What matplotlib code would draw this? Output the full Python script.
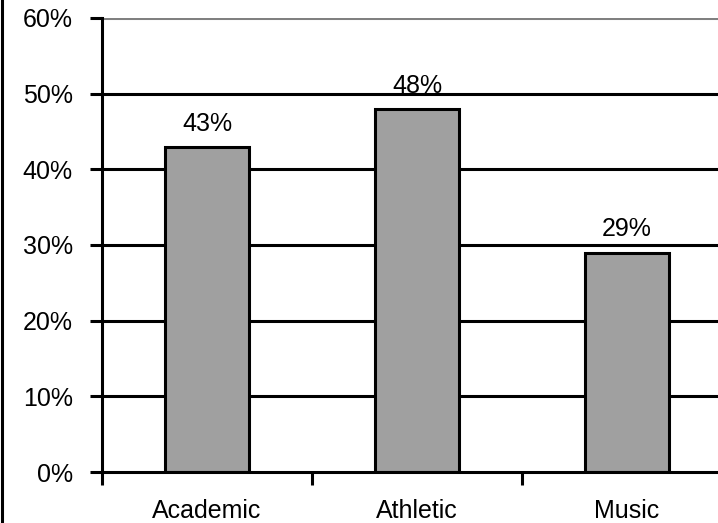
import matplotlib.pyplot as plt
from matplotlib.lines import Line2D
from matplotlib.ticker import PercentFormatter

categories = ["Academic", "Athletic", "Music"]
shares = [0.43, 0.48, 0.29]
y_ticks = [0.0, 0.1, 0.2, 0.3, 0.4, 0.5, 0.6]

plt.rcParams.update(
    {
        "font.family": ["Liberation Sans", "DejaVu Sans"],
        "font.size": 18,
    }
)

W, H = 718, 523
fig = plt.figure(figsize=(W / 100, H / 100), dpi=100)
ax = fig.add_axes([102 / W, (H - 472) / H, (732 - 102) / W, (472 - 18) / H])

lw = 2.2
centers = [i + 0.5 for i in range(len(categories))]

# horizontal lines: black ones, top line gray
for v in y_ticks[1:]:
    ax.axhline(v, color="#808080" if v == y_ticks[-1] else "black", linewidth=lw, zorder=1)

bars = ax.bar(centers, shares, width=0.4, color="#a0a0a0", edgecolor="black",
              linewidth=lw, zorder=2)
for rect, val in zip(bars, shares):
    ax.annotate(f"{val:.0%}", (rect.get_x() + rect.get_width() / 2, val),
                xytext=(0, 8), textcoords="offset points",
                ha="center", va="bottom", zorder=3)

ax.set_xlim(0, len(categories))
ax.set_ylim(0, 0.6)
ax.set_yticks(y_ticks)
ax.yaxis.set_major_formatter(PercentFormatter(1, decimals=0))

ax.set_xticks(centers)
ax.set_xticklabels(categories)
ax.set_xticks(range(len(categories) + 1), minor=True)
ax.tick_params(axis="x", which="major", length=0, pad=19.5)
ax.tick_params(axis="x", which="minor", length=9, width=lw, direction="out")
ax.tick_params(axis="y", length=9, width=lw, direction="out", pad=12)

for side in ("top", "right"):
    ax.spines[side].set_visible(False)
for side in ("left", "bottom"):
    ax.spines[side].set_linewidth(lw)
    ax.spines[side].set_zorder(4)

fig.add_artist(Line2D([1.5 / W, 1.5 / W], [0, 1], color="black", linewidth=2.2,
                      transform=fig.transFigure))

fig.savefig("out.png", dpi=100)
